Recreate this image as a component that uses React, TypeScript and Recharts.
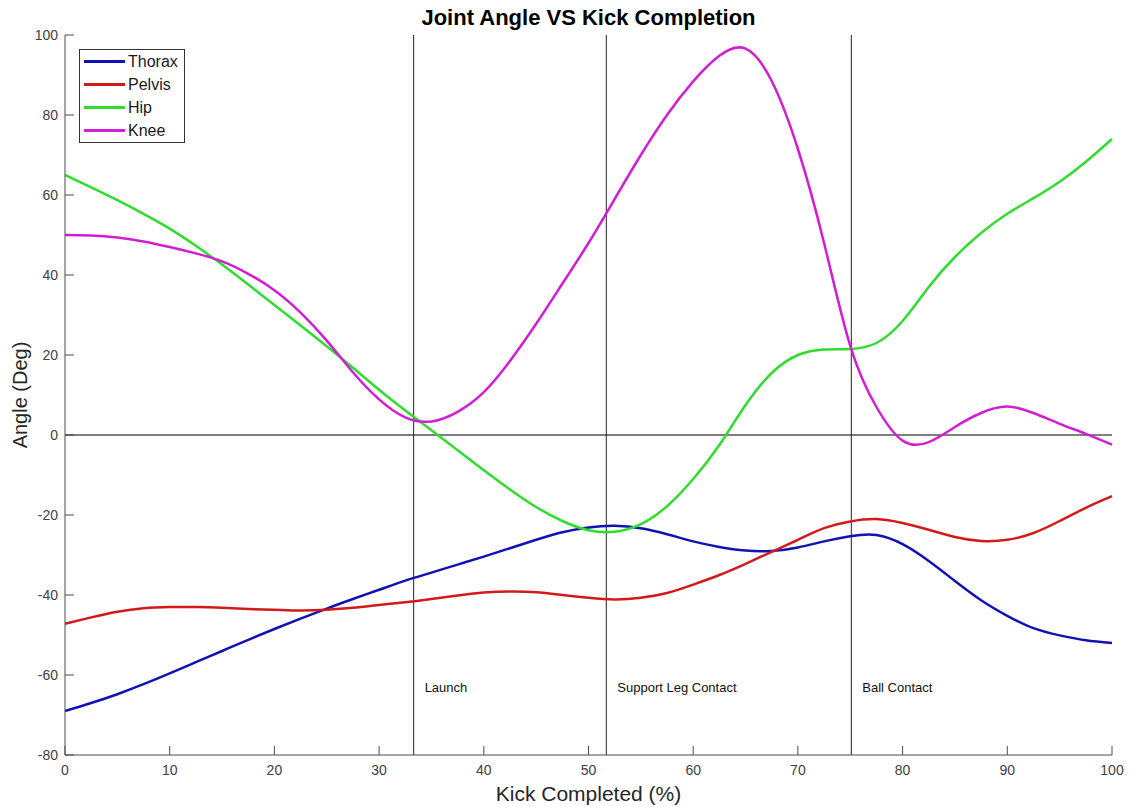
import { LineChart, Line, XAxis, YAxis, ReferenceLine, ReferenceDot, Legend } from "recharts";

// kick completion (%) sample points
const kickPct = [
  0, 2.5, 5, 7.5, 10, 12.5, 15, 17.5, 20, 22.5, 25, 27.5, 30, 32.5, 35, 37.5, 40, 42.5, 45, 47.5,
  50, 52.5, 55, 57.5, 60, 62.5, 65, 67.5, 70, 72.5, 75, 77.5, 80, 82.5, 85, 87.5, 90, 92.5, 95, 97.5, 100,
];

const thorax = [
  -69, -67, -64.8, -62.3, -59.6, -56.8, -54, -51.2, -48.5, -45.9, -43.4, -41, -38.7, -36.4, -34.4, -32.4, -30.4, -28.3, -26.2, -24.3,
  -23.1, -22.7, -23.3, -24.8, -26.6, -28, -28.9, -29, -28.1, -26.6, -25.3, -25, -27.3, -31.5, -36.5, -41.3, -45.2, -48.3, -50.1, -51.3, -52,
];

const pelvis = [
  -47.2, -45.6, -44.2, -43.3, -43, -43, -43.2, -43.5, -43.7, -43.9, -43.7, -43.2, -42.5, -41.8, -41, -40.1, -39.4, -39.1, -39.3, -40,
  -40.7, -41.1, -40.7, -39.5, -37.4, -35, -32.2, -29.2, -26.2, -23.3, -21.6, -21, -22, -23.7, -25.5, -26.5, -26.2, -24.5, -21.5, -18.2, -15.3,
];

const hip = [
  65, 61.9, 58.7, 55.3, 51.6, 47.3, 42.6, 37.6, 32.5, 27.4, 22.2, 16.8, 11.3, 6.1, 1.2, -3.8, -8.8, -13.6, -18, -21.5,
  -23.8, -24.2, -22.3, -17.8, -11, -2.5, 7.5, 15.5, 20, 21.4, 21.5, 23, 28.5, 37, 44.5, 50.5, 55.3, 59.2, 63.3, 68.3, 74,
];

const knee = [
  50, 49.9, 49.4, 48.4, 47, 45.4, 43.4, 40.3, 36.2, 30.6, 23.6, 15.7, 8.9, 4.4, 3.4, 5.8, 10.7, 18.5, 27.8, 37.8,
  48, 59, 70, 80, 88.4, 94.8, 96.6, 88.5, 71.5, 48, 22.3, 7, -1.4, -1.8, 2, 5.5, 7.1, 5.5, 2.8, 0.3, -2.4,
];

const seriesNames = ["Thorax", "Pelvis", "Hip", "Knee"];
const seriesColors = ["#1212b4", "#d21a1a", "#30dc30", "#d21ed2"];

const eventNames = ["Launch", "Support Leg Contact", "Ball Contact"];
const eventPct = [33.3, 51.7, 75.1];
const eventLabelY = -63;

const xTicks = [0, 10, 20, 30, 40, 50, 60, 70, 80, 90, 100];
const yTicks = [-80, -60, -40, -20, 0, 20, 40, 60, 80, 100];

const data = kickPct.map((x, i) => ({
  x,
  Thorax: thorax[i],
  Pelvis: pelvis[i],
  Hip: hip[i],
  Knee: knee[i],
}));

const FONT = '"Liberation Sans", Arial, Helvetica, sans-serif';

const LegendBox = (props: any) => {
  const items = [...(props.payload || [])].sort(
    (a: any, b: any) => seriesNames.indexOf(a.value) - seriesNames.indexOf(b.value)
  );
  return (
    <div
      style={{
        border: "1px solid #333",
        background: "#fff",
        padding: "0 4px",
        width: 106,
        boxSizing: "border-box",
        fontFamily: FONT,
      }}
    >
      {items.map((p: any) => (
        <div key={p.value} style={{ display: "flex", alignItems: "center", height: 23 }}>
          <span style={{ display: "inline-block", width: 41, height: 3, background: p.color, marginRight: 3 }} />
          <span style={{ fontSize: 16, color: "#1a1a1a" }}>{p.value}</span>
        </div>
      ))}
    </div>
  );
};

export default function App() {
  return (
    <div style={{ position: "absolute", left: 0, top: 0, width: 1132, height: 807, background: "#fff" }}>
      <div
        style={{
          position: "absolute",
          left: 65,
          width: 1047,
          top: 5,
          textAlign: "center",
          fontFamily: FONT,
          fontWeight: "bold",
          fontSize: 22,
          lineHeight: "26px",
          color: "#000",
        }}
      >
        Joint Angle VS Kick Completion
      </div>
      <LineChart width={1132} height={807} data={data} margin={{ top: 35, right: 20, bottom: 51, left: 64 }}>
        <XAxis
          dataKey="x"
          type="number"
          domain={[0, 100]}
          ticks={xTicks}
          interval={0}
          height={1}
          tickSize={-9}
          tickMargin={19}
          stroke="#4d4d4d"
          tick={{ fill: "#404040", fontSize: 14, fontFamily: FONT }}
          label={{ value: "Kick Completed (%)", position: "bottom", offset: 30, fill: "#262626", fontSize: 21, fontFamily: FONT }}
        />
        <YAxis
          type="number"
          domain={[-80, 100]}
          ticks={yTicks}
          interval={0}
          width={1}
          tickSize={-9}
          tickMargin={16}
          stroke="#4d4d4d"
          tick={{ fill: "#404040", fontSize: 14, fontFamily: FONT }}
          label={{
            value: "Angle (Deg)",
            angle: -90,
            position: "left",
            offset: 44,
            fill: "#262626",
            fontSize: 20,
            fontFamily: FONT,
            style: { textAnchor: "middle" },
          }}
        />
        <ReferenceLine y={0} stroke="#000" strokeWidth={1} />
        {eventPct.map((x) => (
          <ReferenceLine key={"l" + x} x={x} stroke="#222" strokeWidth={1} />
        ))}
        {eventPct.map((x, i) => (
          <ReferenceDot
            key={"d" + x}
            x={x}
            y={eventLabelY}
            r={0}
            fill="none"
            stroke="none"
            label={{ value: eventNames[i], position: "right", offset: 11, fill: "#111", fontSize: 13, fontFamily: FONT }}
          />
        ))}
        {seriesNames.map((name, i) => (
          <Line
            key={name}
            type="natural"
            dataKey={name}
            name={name}
            stroke={seriesColors[i]}
            strokeWidth={2.5}
            dot={false}
            activeDot={false}
            isAnimationActive={false}
          />
        ))}
        <Legend
          layout="vertical"
          align="center"
          verticalAlign="middle"
          wrapperStyle={{ left: 79, top: 49, width: 106 }}
          content={<LegendBox />}
        />
      </LineChart>
    </div>
  );
}
